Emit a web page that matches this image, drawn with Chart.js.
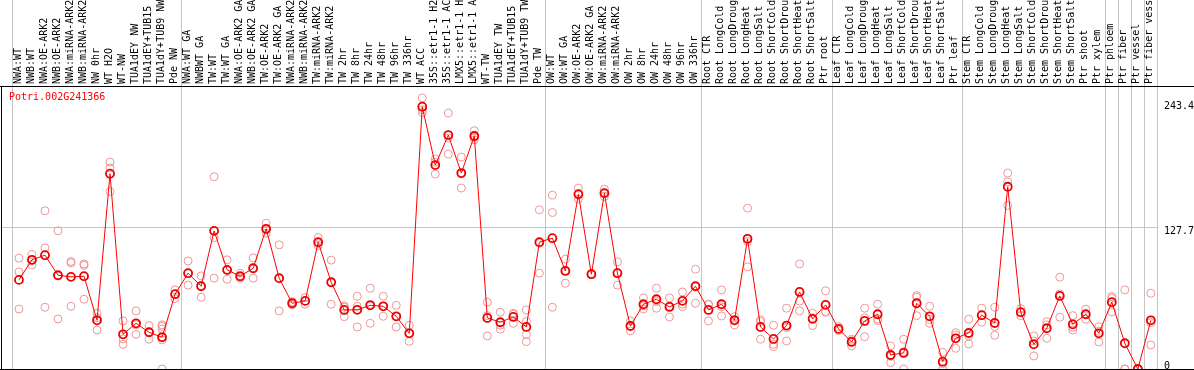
<!DOCTYPE html>
<html>
<head>
<meta charset="utf-8">
<script src="https://cdn.jsdelivr.net/npm/chart.js@4.4.1/dist/chart.umd.min.js"></script>
<style>
  html, body { margin: 0; padding: 0; background: #fff; }
  #wrap { width: 1194px; height: 370px; }
</style>
</head>
<body>
<div id="wrap"><canvas id="chart" width="1194" height="370"></canvas></div>
<script>
const gene = 'Potri.002G241366';

const categories = [
  'NWA:WT', 'NWB:WT', 'NWA:OE-ARK2', 'NWB:OE-ARK2', 'NWA:miRNA-ARK2', 'NWB:miRNA-ARK2',
  'NW 0hr', 'WT H2O', 'WT-NW', 'TUA1dEY NW', 'TUA1dEY+TUB15 NW', 'TUA1dY+TUB9 NW', 'Pde NW',
  'NWA:WT GA', 'NWBWT GA', 'TW:WT', 'TW:WT GA', 'NWA:OE-ARK2 GA', 'NWB:OE-ARK2 GA',
  'TW:OE-ARK2', 'TW:OE-ARK2 GA', 'NWA:miRNA-ARK2 GA', 'NWB:miRNA-ARK2 GA', 'TW:miRNA-ARK2',
  'TW:miRNA-ARK2 GA', 'TW 2hr', 'TW 8hr', 'TW 24hr', 'TW 48hr', 'TW 96hr', 'TW 336hr', 'WT ACC',
  '35S::etr1-1 H2O', '35S::etr1-1 ACC', 'LMX5::etr1-1 H2O', 'LMX5::etr1-1 ACC', 'WT-TW',
  'TUA1dEY TW', 'TUA1dEY+TUB15 TW', 'TUA1dY+TUB9 TW', 'Pde TW',
  'OW:WT', 'OW:WT GA', 'OW:OE-ARK2', 'OW:OE-ARK2 GA', 'OW:miRNA-ARK2', 'OW:miRNA-ARK2 GA',
  'OW 2hr', 'OW 8hr', 'OW 24hr', 'OW 48hr', 'OW 96hr', 'OW 336hr',
  'Root CTR', 'Root LongCold', 'Root LongDrought', 'Root LongHeat', 'Root LongSalt',
  'Root ShortCold', 'Root ShortDrought', 'Root ShortHeat', 'Root ShortSalt', 'Ptr root',
  'Leaf CTR', 'Leaf LongCold', 'Leaf LongDrought', 'Leaf LongHeat', 'Leaf LongSalt',
  'Leaf ShortCold', 'Leaf ShortDrought', 'Leaf ShortHeat', 'Leaf ShortSalt', 'Ptr leaf',
  'Stem CTR', 'Stem LongCold', 'Stem LongDrought', 'Stem LongHeat', 'Stem LongSalt',
  'Stem ShortCold', 'Stem ShortDrought', 'Stem ShortHeat', 'Stem ShortSalt', 'Ptr shoot',
  'Ptr xylem', 'Ptr phloem', 'Ptr fiber', 'Ptr vessel', 'Ptr fiber vessel'
];

const means = [
  82.7, 101.3, 105.6, 87.0, 85.5, 86.1, 45.2, 181.2, 32.2, 42.4, 34.1, 29.4, 69.4,
  88.9, 76.8, 128.2, 92.0, 86.1, 93.5, 130.1, 84.3, 61.0, 63.2, 117.7, 80.5, 54.8, 54.9,
  59.1, 58.2, 48.9, 33.1, 243.4, 189.2, 217.1, 181.8, 216.2, 47.4, 43.4, 48.3, 39.0, 117.7,
  121.4, 91.0, 162.3, 88.0, 163.2, 88.9, 39.9, 60.1, 64.7, 57.6, 63.2, 76.8,
  54.8, 60.1, 45.2, 120.8, 39.0, 27.9, 40.3, 71.5, 46.5, 59.5,
  37.2, 25.1, 44.6, 50.8, 13.0, 14.9, 61.0, 48.9, 6.8, 28.5,
  33.4, 49.9, 42.7, 169.1, 52.7, 22.9, 37.8, 67.8, 41.5, 50.8, 33.1,
  62.0, 23.9, 0, 45.2
];

const replicates = [
  [102.8, 90.1, 55.7], [106.2, 100.6, 96.6], [146.8, 112.4, 57.3], [128.2, 86.4, 46.4],
  [98.5, 99.8, 58.2], [97.5, 96.2, 64.7], [51.7, 47.6, 36.2], [192, 186.5, 164.7],
  [44.6, 27.9, 22.9], [53.9, 41.1, 32.2], [40.3, 34.4, 27.6], [41, 39.5, 37, 30, 27, 0],
  [73.4, 69.5, 65.3],
  [100.3, 88.6, 77.8], [86.4, 77.4, 66.6], [178.4, 122, 84.3], [101.3, 91.4, 83.3],
  [88.9, 85.2, 84.2], [103.1, 93, 84.3], [135.3, 129, 126], [115.2, 83.8, 53.9],
  [62.5, 61, 59.5], [66.3, 63.2, 60.1], [122, 116.5, 114.6], [101, 80.5, 60.1],
  [58.5, 57.3, 48.6], [67.5, 58.2, 39], [75, 60, 42.4], [67.5, 58.2, 48.9],
  [59.1, 48.7, 39], [40.6, 33, 25.7], [251.5, 240.6, 238], [194.8, 192, 180.9],
  [237.5, 214.4, 199.4], [196.7, 181, 167.9], [221.1, 214.8, 212.7], [62, 49.5, 30.7],
  [52.7, 40.6, 36.9], [51.7, 50.8, 42.4], [54.8, 44, 32, 25.4], [147.7, 116.5, 88.9],
  [161.3, 145.2, 57.3], [101.9, 91.5, 79.6], [167.9, 161.3, 157.7], [88.5, 88, 87.5],
  [166.9, 162.6, 160.1], [99.4, 89.5, 77.8], [44.6, 39.9, 35.3], [66, 58.6, 55.7],
  [75, 62.7, 56.4], [66, 58.5, 48.3], [71.5, 60.2, 57.9], [92.6, 76.8, 61],
  [60.1, 59.7, 44.6], [73.4, 57.7, 49.2], [48.6, 46, 40.9], [149.3, 118.3, 94.8],
  [45.5, 44, 27.6], [40.6, 22.9, 20.7], [56.4, 38.5, 26], [97.5, 63, 53.9],
  [51.7, 47.5, 40.3], [72.5, 53.3, 52.7],
  [39.3, 36.7, 35.6], [27.6, 26.3, 21.4], [56.4, 47.5, 30], [60.1, 46.5, 44.9],
  [21.4, 11.7, 5.9], [27.6, 16.1, 0], [68.1, 66.6, 49.5], [58.2, 46, 42.4],
  [15.5, 5, 0], [33.7, 31.6, 19.2],
  [46.2, 30.8, 23.2], [56.4, 50, 43.4], [57.3, 39.5, 31.3], [181.8, 173.7, 151.7],
  [56, 52.6, 49.5], [30.7, 26, 12.1], [43.9, 41, 28.5], [85.2, 69.7, 48],
  [49.5, 38.8, 36.2], [55.5, 50.7, 46.2], [39.3, 35, 25.1],
  [67.2, 65.7, 53], [73.4, 0, 0], [0, 0, 0], [70.3, 43, 22.3]
];

// grey lines between sample groups
const separators = [-0.5, 12.5, 40.5, 52.5, 62.5, 72.5, 83.5, 84.5, 85.5, 86.5, 87.5];
const yTicks = [0, 127.7, 243.4];
const yMidLine = 131.3;

const MONO = "'DejaVu Sans Mono', monospace";
const X_MIN = -1.38;
const X_MAX = 87.55;
const Y_MAX = 262.6;
const GREY = '#c4c4c4';
const CLEAR = 'rgba(0,0,0,0)';

function noPadding(scale) {
    scale.paddingLeft = 0;
    scale.paddingRight = 0;
    scale.paddingTop = 0;
    scale.paddingBottom = 0;
}

// black frame lines across the whole width
const frameLines = {
    id: 'frameLines',
    afterDraw(chart) {
        const { ctx, chartArea, width } = chart;
        ctx.save();
        ctx.strokeStyle = '#000';
        ctx.lineWidth = 1;
        ctx.beginPath();
        ctx.moveTo(0, Math.round(chartArea.top) + 0.5);
        ctx.lineTo(width, Math.round(chartArea.top) + 0.5);
        ctx.moveTo(0, Math.round(chartArea.bottom) + 0.5);
        ctx.lineTo(width, Math.round(chartArea.bottom) + 0.5);
        ctx.stroke();
        ctx.restore();
    }
};

document.addEventListener('DOMContentLoaded', () => {
    const meanPoints = means.map((v, i) => ({ x: i, y: v }));
    const repPoints = [];
    replicates.forEach((reps, i) => reps.forEach(v => repPoints.push({ x: i, y: v })));

    const topTicks = categories.map((c, i) => i).concat(separators).sort((a, b) => a - b);

    new Chart(document.getElementById('chart'), {
        type: 'line',
        data: {
            datasets: [
                {
                    label: gene,
                    data: meanPoints,
                    borderColor: '#ff0000',
                    borderWidth: 1,
                    pointRadius: 4,
                    pointBorderWidth: 1.8,
                    pointBorderColor: '#ee0000',
                    pointBackgroundColor: CLEAR,
                    tension: 0,
                    clip: false,
                    xAxisID: 'x',
                    yAxisID: 'y'
                },
                {
                    type: 'scatter',
                    label: 'replicates',
                    data: repPoints,
                    showLine: false,
                    pointRadius: 4,
                    pointBorderWidth: 1,
                    pointBorderColor: '#ee9696',
                    pointBackgroundColor: CLEAR,
                    clip: false,
                    xAxisID: 'x',
                    yAxisID: 'y'
                }
            ]
        },
        options: {
            responsive: false,
            animation: false,
            events: [],
            layout: { padding: 0, autoPadding: false },
            plugins: {
                tooltip: { enabled: false },
                legend: {
                    position: 'chartArea',
                    align: 'start',
                    labels: {
                        boxWidth: 0,
                        boxHeight: 188,
                        padding: 3,
                        color: '#ff0000',
                        font: { family: MONO, size: 10 },
                        generateLabels: chart => Chart.defaults.plugins.legend.labels.generateLabels(chart)
                            .filter(item => item.datasetIndex === 0)
                            .map(item => ({ ...item, fillStyle: CLEAR, strokeStyle: CLEAR, lineWidth: 0 }))
                    }
                }
            },
            scales: {
                x: {
                    type: 'linear',
                    position: 'bottom',
                    min: X_MIN,
                    max: X_MAX,
                    ticks: { display: false },
                    grid: { color: CLEAR, drawTicks: false },
                    border: { display: true, color: '#000', width: 1 },
                    afterFit: s => { s.height = 1; noPadding(s); }
                },
                xTop: {
                    type: 'linear',
                    position: 'top',
                    min: X_MIN,
                    max: X_MAX,
                    afterBuildTicks: s => { s.ticks = topTicks.map(v => ({ value: v })); },
                    ticks: {
                        autoSkip: false,
                        minRotation: 90,
                        maxRotation: 90,
                        padding: -84,
                        labelOffset: 11,
                        color: '#000',
                        font: { family: MONO, size: 10 },
                        callback: v => Number.isInteger(v) ? categories[v] : ''
                    },
                    grid: {
                        drawTicks: true,
                        tickLength: 86,
                        color: ctx => (ctx.tick && !Number.isInteger(ctx.tick.value)) ? GREY : CLEAR,
                        tickColor: ctx => (ctx.tick && !Number.isInteger(ctx.tick.value)) ? GREY : CLEAR
                    },
                    border: { display: true, color: '#000', width: 1 },
                    afterFit: s => { s.height = 86; noPadding(s); }
                },
                yLeft: {
                    type: 'linear',
                    position: 'left',
                    ticks: { display: false },
                    grid: { color: CLEAR, drawTicks: false },
                    border: { display: true, color: '#000', width: 1 },
                    afterFit: s => { s.width = 1; noPadding(s); }
                },
                y: {
                    type: 'linear',
                    position: 'right',
                    min: 0,
                    max: Y_MAX,
                    afterBuildTicks: s => { s.ticks = yTicks.concat([yMidLine]).sort((a, b) => a - b).map(v => ({ value: v })); },
                    ticks: {
                        padding: 6,
                        color: '#000',
                        font: { family: MONO, size: 10, lineHeight: 0.6 },
                        callback: v => {
                            if (v === yMidLine) return '';
                            if (v === 0) return ['0', ''];
                            return String(v);
                        }
                    },
                    grid: {
                        drawTicks: false,
                        color: ctx => (ctx.tick && ctx.tick.value === yMidLine) ? GREY : CLEAR
                    },
                    border: { display: false },
                    afterFit: s => { s.width = 36; noPadding(s); }
                }
            }
        },
        plugins: [frameLines]
    });
});
</script>
</body>
</html>
